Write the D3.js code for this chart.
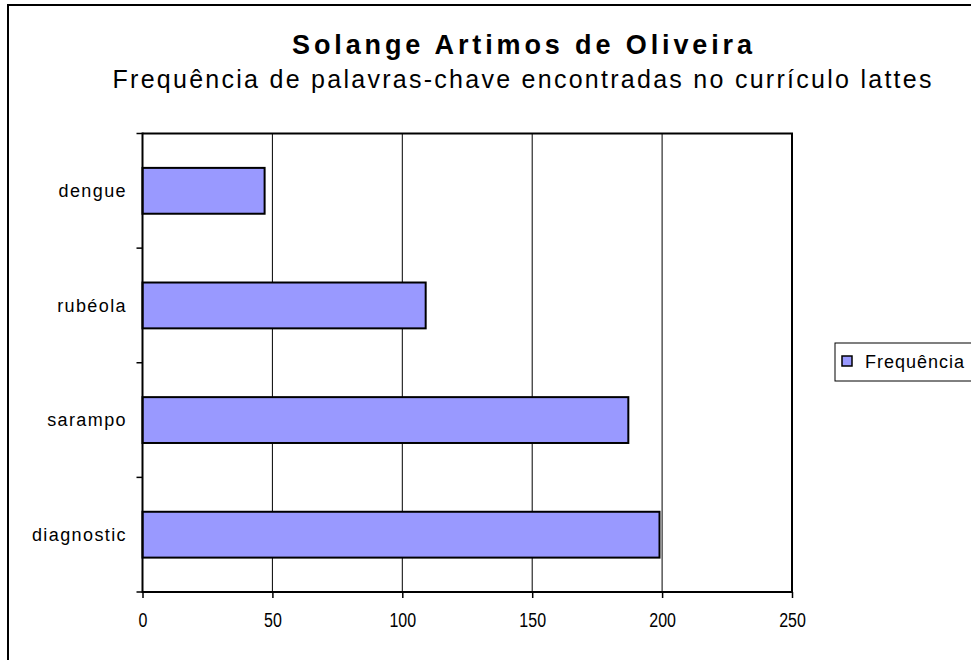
<!DOCTYPE html>
<html><head><meta charset="utf-8">
<script src="https://cdn.jsdelivr.net/npm/d3@7"></script>
<style>body{margin:0;background:#fff}svg{display:block}text{font-family:Arial,"Liberation Sans",sans-serif;fill:#000}</style>
</head><body>
<script>
const categories = ["dengue", "rubéola", "sarampo", "diagnostic"];
const values = [47, 109, 187, 199];
const xTicks = [0, 50, 100, 150, 200, 250];
const seriesName = "Frequência";
const title = "Solange Artimos de Oliveira";
const subtitle = "Frequência de palavras-chave encontradas no currículo lattes";

const W = 971, H = 660;
const svg = d3.select("body").append("svg").attr("width", W).attr("height", H);

// outer frame
svg.append("rect").attr("x", 8).attr("y", 5).attr("width", W).attr("height", H)
  .attr("fill", "#fff").attr("stroke", "#000").attr("stroke-width", 2);

const L = 142.5, R = 792, T = 133.5, B = 592;
const x = d3.scaleLinear().domain([0, 250]).range([L, R]);
const y = d3.scaleBand().domain(categories).range([T, B]).paddingInner(0.6).paddingOuter(0.3);

// gridlines
svg.append("g").selectAll("line").data(xTicks.filter(d => d > 0 && d < 250)).join("line")
  .attr("x1", d => x(d)).attr("x2", d => x(d)).attr("y1", T).attr("y2", B)
  .attr("stroke", "#000").attr("stroke-width", 1);

// plot border top/right
svg.append("path").attr("d", `M${L},${T}H${R}V${B}`).attr("fill", "none")
  .attr("stroke", "#000").attr("stroke-width", 2);

// bars
svg.append("g").selectAll("rect").data(values).join("rect")
  .attr("x", x(0)).attr("y", (d, i) => y(categories[i]))
  .attr("width", d => x(d) - x(0)).attr("height", y.bandwidth())
  .attr("fill", "#9999FF").attr("stroke", "#000").attr("stroke-width", 2);

// x axis
const xAxis = svg.append("g").attr("transform", `translate(0,${B})`)
  .call(d3.axisBottom(x).tickValues(xTicks).tickSize(6).tickPadding(15));
xAxis.select(".domain").attr("stroke-width", 2).attr("d", `M${L},0H${R}`);
xAxis.selectAll("line").attr("stroke-width", 1.5);
xAxis.selectAll("text").attr("font-size", 20).attr("font-family", "Arial, 'Liberation Sans', sans-serif")
  .each(function() { const w = this.getComputedTextLength(); d3.select(this).attr("textLength", w * 0.8).attr("lengthAdjust", "spacingAndGlyphs"); });

// y axis: ticks at band boundaries
const bounds = d3.range(categories.length + 1).map(i => T + i * y.step());
svg.append("g").selectAll("line").data(bounds).join("line")
  .attr("x1", L - 6).attr("x2", L).attr("y1", d => d).attr("y2", d => d)
  .attr("stroke", "#000").attr("stroke-width", 1.5);
svg.append("line").attr("x1", L).attr("x2", L).attr("y1", T - 1).attr("y2", B + 1)
  .attr("stroke", "#000").attr("stroke-width", 2);
svg.append("g").selectAll("text").data(categories).join("text")
  .attr("x", 127).attr("y", d => y(d) + y.bandwidth() / 2)
  .attr("dy", "0.35em").attr("text-anchor", "end").attr("font-size", 18)
  .attr("letter-spacing", 1.4).text(d => d);

// titles
svg.append("text").attr("x", 522).attr("y", 54).attr("text-anchor", "middle")
  .attr("font-size", 27).attr("font-weight", "bold")
  .attr("textLength", 460).attr("lengthAdjust", "spacing").text(title);
svg.append("text").attr("x", 522).attr("y", 88).attr("text-anchor", "middle")
  .attr("font-size", 25)
  .attr("textLength", 819).attr("lengthAdjust", "spacing").text(subtitle);

// legend
const lg = svg.append("g");
lg.append("rect").attr("x", 835).attr("y", 343).attr("width", 200).attr("height", 38)
  .attr("fill", "#fff").attr("stroke", "#000").attr("stroke-width", 1);
lg.append("rect").attr("x", 842).attr("y", 356).attr("width", 10).attr("height", 10)
  .attr("fill", "#9999FF").attr("stroke", "#000").attr("stroke-width", 1.5);
lg.append("text").attr("x", 865).attr("y", 362).attr("dy", "0.35em").attr("font-size", 18)
  .attr("letter-spacing", 1).text(seriesName);
</script>
</body></html>
